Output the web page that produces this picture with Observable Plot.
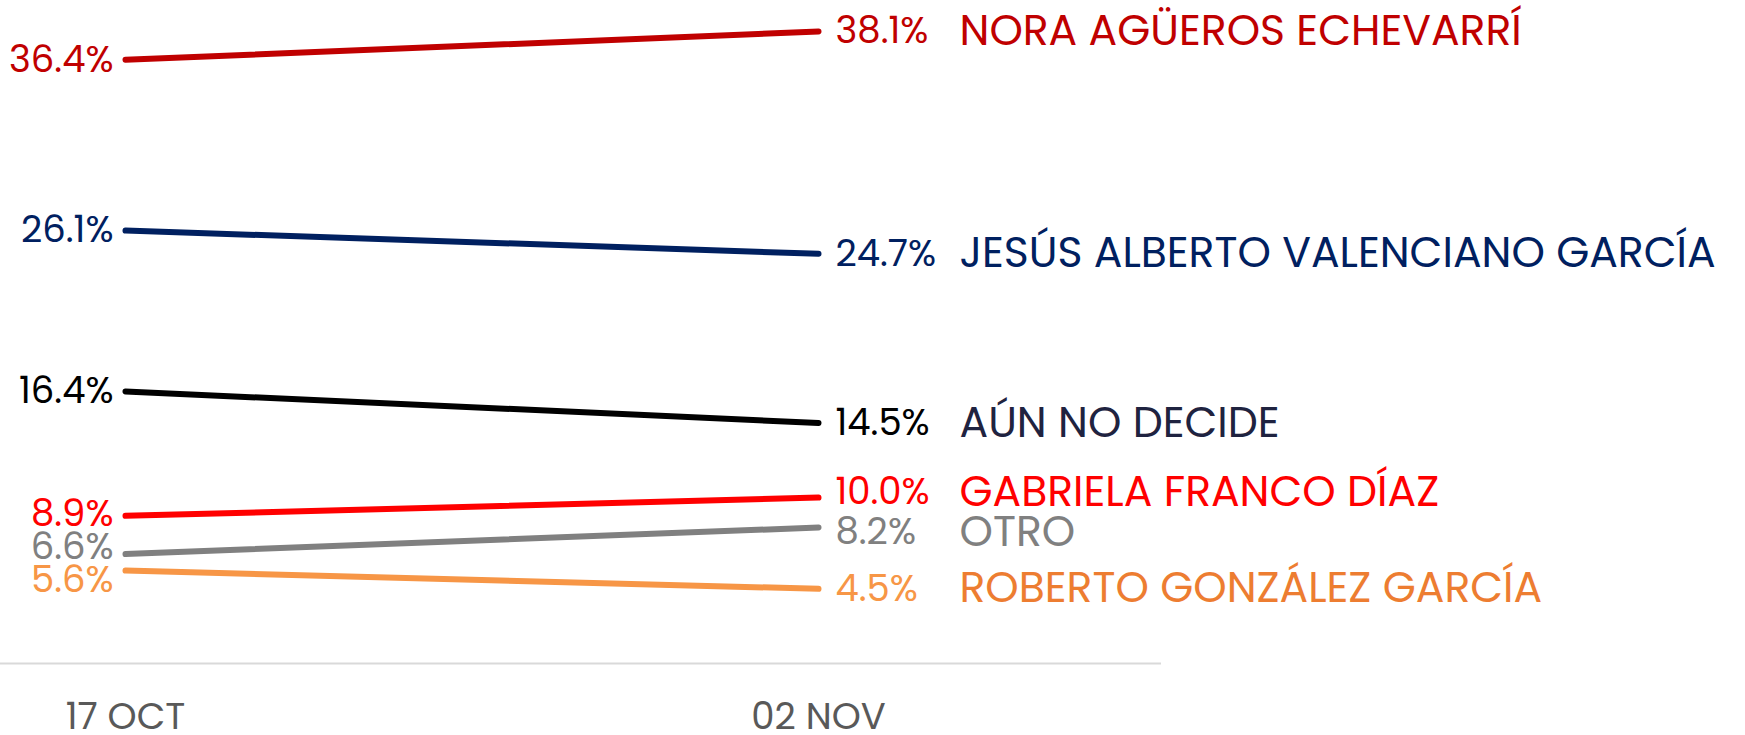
<!DOCTYPE html>
<html><head><meta charset="utf-8">
<script src="https://cdn.jsdelivr.net/npm/d3@7"></script>
<script src="https://cdn.jsdelivr.net/npm/@observablehq/plot@0.6"></script>
<style>body{margin:0;background:#fff} svg{overflow:visible}</style>
</head><body><div id="chart"></div>
<script>
const dates = ["2024-10-17", "2024-11-02"];
const tickLabels = ["17 OCT", "02 NOV"];
const series = ["NORA AGÜEROS ECHEVARRÍ", "JESÚS ALBERTO VALENCIANO GARCÍA", "AÚN NO DECIDE", "GABRIELA FRANCO DÍAZ", "OTRO", "ROBERTO GONZÁLEZ GARCÍA"];
const oct17 = [36.4, 26.1, 16.4, 8.9, 6.6, 5.6];
const nov02 = [38.1, 24.7, 14.5, 10.0, 8.2, 4.5];
const lineColors = ["#C00000", "#002060", "#000000", "#FF0000", "#808080", "#F79646"];
const nameColors = ["#C00000", "#002060", "#1F2340", "#FF0000", "#808080", "#ED7D31"];

const FONT = "Poppins, Inter, sans-serif";
const W = 1745, H = 735, mT = 31, mB = 72, mL = 0, mR = 584;
const parsed = dates.map(d => new Date(d + "T00:00:00Z"));
const yDomain = [0, d3.max(nov02.concat(oct17))];
const yScale = Plot.scale({y: {domain: yDomain, range: [H - mB, mT]}});

const rows = [];
series.forEach((s, i) => {
  rows.push({name: s, date: parsed[0], value: oct17[i], color: lineColors[i]});
  rows.push({name: s, date: parsed[1], value: nov02[i], color: lineColors[i]});
});

// simple label de-overlap in pixel space, returned in data units
function dodge(values, minSep) {
  const idx = values.map((v, i) => i).sort((a, b) => yScale.apply(values[a]) - yScale.apply(values[b]));
  let groups = idx.map(i => ({items: [i], center: yScale.apply(values[i])}));
  let changed = true;
  while (changed) {
    changed = false;
    for (let g = 0; g < groups.length - 1; g++) {
      const a = groups[g], b = groups[g + 1];
      const aBottom = a.center + (a.items.length - 1) * minSep / 2;
      const bTop = b.center - (b.items.length - 1) * minSep / 2;
      if (bTop - aBottom < minSep) {
        const n = a.items.length + b.items.length;
        const center = (a.center * a.items.length + b.center * b.items.length) / n;
        groups.splice(g, 2, {items: a.items.concat(b.items), center});
        changed = true;
        break;
      }
    }
  }
  const out = new Array(values.length);
  groups.forEach(g => g.items.forEach((i, k) => {
    out[i] = yScale.invert(g.center + (k - (g.items.length - 1) / 2) * minSep);
  }));
  return out;
}

const leftY = dodge(oct17, 33);
const rightY = dodge(nov02, 40);
const leftLabels = series.map((s, i) => ({y: leftY[i], date: parsed[0], text: oct17[i].toFixed(1) + "%", color: lineColors[i]}));
const rightLabels = series.map((s, i) => ({y: rightY[i], date: parsed[1], text: nov02[i].toFixed(1) + "%", color: lineColors[i], name: s, nameColor: nameColors[i]}));

const chart = Plot.plot({
  width: W, height: H,
  marginTop: mT, marginBottom: mB, marginLeft: mL, marginRight: mR,
  x: {type: "utc", domain: parsed, range: [125, 818], axis: null},
  y: {domain: yDomain, axis: null},
  color: {type: "identity"},
  style: {fontFamily: FONT, background: "#fff"},
  marks: [
    Plot.ruleY([0], {stroke: "#d9d9d9", strokeWidth: 2}),
    Plot.line(rows, {x: "date", y: "value", z: "name", stroke: "color", strokeWidth: 6, strokeLinecap: "round"}),
    Plot.text(leftLabels, {x: "date", y: "y", text: "text", fill: "color", textAnchor: "end", dx: -12, fontSize: 37, fontFamily: FONT}),
    Plot.text(rightLabels, {x: "date", y: "y", text: "text", fill: "color", textAnchor: "start", dx: 17, fontSize: 37, fontFamily: FONT}),
    Plot.text(rightLabels, {x: "date", y: "y", text: "name", fill: "nameColor", textAnchor: "start", dx: 141, fontSize: 42.5, fontFamily: FONT}),
    Plot.text(parsed, {x: d => d, text: (d, i) => tickLabels[i], frameAnchor: "bottom", dy: 65, fill: "#595959", fontSize: 37, fontFamily: FONT})
  ]
});
document.getElementById("chart").appendChild(chart);
</script>
</body></html>
